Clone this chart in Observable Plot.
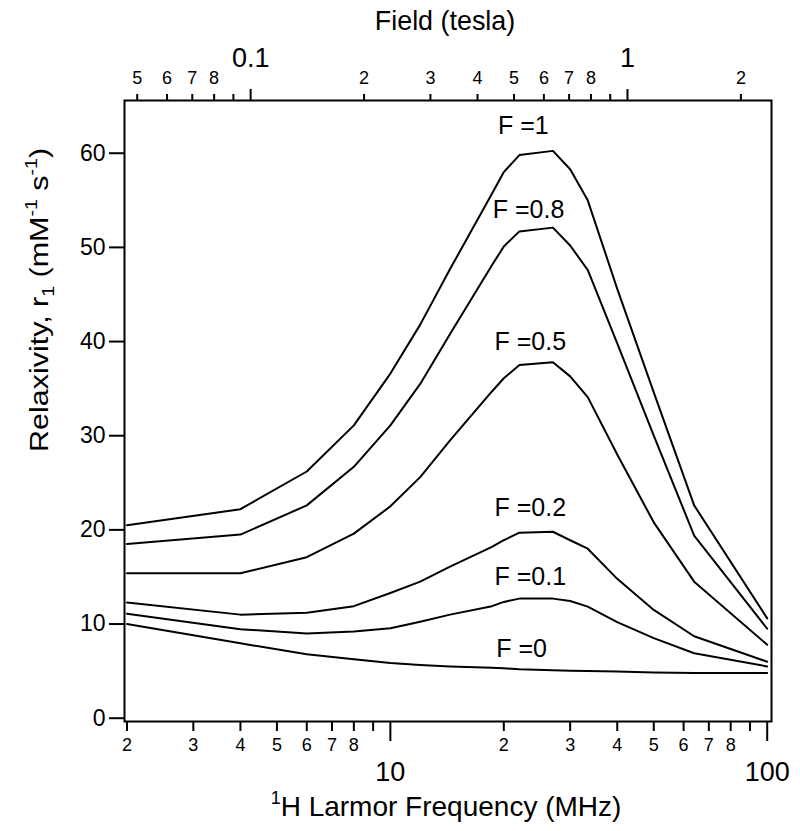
<!DOCTYPE html>
<html>
<head>
<meta charset="utf-8">
<script src="https://cdn.jsdelivr.net/npm/d3@7"></script>
<script src="https://cdn.jsdelivr.net/npm/@observablehq/plot@0.6"></script>
<style>
  body { margin: 0; background: #fff; }
  #chart svg { display: block; }
</style>
</head>
<body>
<div id="chart"></div>
<script>
// ---- data ----
const freq = [2, 4, 6, 8, 10, 12, 14.4, 18.6, 20, 22, 27, 30, 33.4, 40, 50, 64, 100];
const r1_F1   = [20.5, 22.2, 26.2, 31.1, 36.6, 41.8, 47.7, 55.7, 58.0, 59.8, 60.25, 58.3, 55.0, 45.6, 34.6, 22.6, 10.6];
const r1_F08  = [18.5, 19.5, 22.6, 26.7, 31.1, 35.5, 40.8, 48.1, 50.1, 51.7, 52.1, 50.2, 47.6, 39.8, 30.0, 19.4, 9.5];
const r1_F05  = [15.4, 15.4, 17.1, 19.6, 22.5, 25.6, 29.5, 34.7, 36.1, 37.5, 37.8, 36.3, 34.1, 28.0, 20.8, 14.5, 7.8];
const r1_F02  = [12.3, 11.0, 11.2, 11.9, 13.3, 14.5, 16.1, 18.2, 18.9, 19.7, 19.8, 18.9, 18.0, 14.8, 11.5, 8.7, 6.0];
const r1_F01  = [11.1, 9.45, 9.0, 9.2, 9.55, 10.25, 11.0, 11.9, 12.35, 12.7, 12.7, 12.45, 11.85, 10.2, 8.5, 6.9, 5.5];
const r1_F0   = [10.0, 7.95, 6.8, 6.25, 5.85, 5.65, 5.5, 5.35, 5.3, 5.2, 5.1, 5.05, 5.0, 4.95, 4.85, 4.8, 4.8];
const seriesNames = ["F =1", "F =0.8", "F =0.5", "F =0.2", "F =0.1", "F =0"];
const seriesValues = [r1_F1, r1_F08, r1_F05, r1_F02, r1_F01, r1_F0];
// label anchor (data coordinates)
const labelFreq = [19.3, 18.7, 18.9, 18.9, 18.9, 19.1];
const labelR1   = [62.9, 54.0, 39.9, 22.3, 15.0, 7.4];

// axis ticks
const yTicks = [0, 10, 20, 30, 40, 50, 60];
const freqMinorTicks  = [2, 3, 4, 5, 6, 7, 8, 9, 20, 30, 40, 50, 60, 70, 80, 90];
const freqMinorLabels = ["2", "3", "4", "5", "6", "7", "8", "", "2", "3", "4", "5", "6", "7", "8", ""];
const freqMajorTicks  = [10, 100];
const freqMajorLabels = ["10", "100"];
const teslaMinorTicks  = [0.05, 0.06, 0.07, 0.08, 0.09, 0.2, 0.3, 0.4, 0.5, 0.6, 0.7, 0.8, 0.9, 2];
const teslaMinorLabels = ["5", "6", "7", "8", "", "2", "3", "4", "5", "6", "7", "8", "", "2"];
const teslaMajorTicks  = [0.1, 1];
const teslaMajorLabels = ["0.1", "1"];
const MHZ_PER_TESLA = 42.58;

// ---- build tables ----
const rows = [];
seriesNames.forEach((name, s) => freq.forEach((f, i) => rows.push({series: name, f, r1: seriesValues[s][i]})));
const labels = seriesNames.map((name, i) => ({name, f: labelFreq[i], r1: labelR1[i]}));
const teslaMinorMHz = teslaMinorTicks.map(t => t * MHZ_PER_TESLA);
const teslaMajorMHz = teslaMajorTicks.map(t => t * MHZ_PER_TESLA);

const FONT = "'Liberation Sans', Arial, Helvetica, sans-serif";
const noLabel = () => "";

const plot = Plot.plot({
  width: 800,
  height: 831,
  marginTop: 100,
  marginBottom: 110,
  marginLeft: 124,
  marginRight: 29,
  style: {fontFamily: FONT, color: "black", background: "white"},
  x: {type: "log", domain: [1.97, 102.66]},
  y: {domain: [-0.35, 65.6]},
  marks: [
    Plot.axisY(yTicks, {tickSize: 15, tickPadding: 4, fontSize: 23, strokeWidth: 2, label: null}),
    // tick marks
    Plot.axisX(freqMinorTicks, {anchor: "bottom", tickSize: 10, strokeWidth: 2, tickFormat: noLabel, label: null}),
    Plot.axisX(freqMajorTicks, {anchor: "bottom", tickSize: 20, strokeWidth: 2, tickFormat: noLabel, label: null}),
    Plot.axisX(teslaMinorMHz, {anchor: "top", tickSize: 7, strokeWidth: 2, tickFormat: noLabel, label: null}),
    Plot.axisX(teslaMajorMHz, {anchor: "top", tickSize: 12, strokeWidth: 2, tickFormat: noLabel, label: null}),
    // tick labels
    Plot.text(freqMinorTicks, {x: d => d, text: freqMinorLabels, frameAnchor: "bottom", lineAnchor: "middle", dy: 24, fontSize: 18, fill: "black"}),
    Plot.text(freqMajorTicks, {x: d => d, text: freqMajorLabels, frameAnchor: "bottom", lineAnchor: "middle", dy: 51, fontSize: 27, fill: "black"}),
    Plot.text(teslaMinorMHz, {x: d => d, text: teslaMinorLabels, frameAnchor: "top", lineAnchor: "middle", dy: -22, fontSize: 18, fill: "black"}),
    Plot.text(teslaMajorMHz, {x: d => d, text: teslaMajorLabels, frameAnchor: "top", lineAnchor: "middle", dy: -42, fontSize: 27, fill: "black"}),
    Plot.frame({stroke: "black", strokeWidth: 2}),
    Plot.line(rows, {x: "f", y: "r1", z: "series", stroke: "black", strokeWidth: 2}),
    Plot.text(labels, {x: "f", y: "r1", text: "name", textAnchor: "start", fontSize: 25, fill: "black"})
  ]
});
document.getElementById("chart").appendChild(plot);

// ---- axis titles with sub/superscripts ----
const svg = d3.select(plot);
svg.append("text")
  .attr("transform", "translate(445,20) scale(0.96,1)")
  .attr("text-anchor", "middle").attr("dominant-baseline", "central")
  .attr("font-family", FONT).attr("font-size", 28).attr("fill", "black")
  .text("Field (tesla)");

const xt = svg.append("text")
  .attr("x", 446).attr("y", 816)
  .attr("text-anchor", "middle")
  .attr("font-family", FONT).attr("font-size", 28).attr("fill", "black");
xt.append("tspan").attr("font-size", 18).attr("dy", -12).text("1");
xt.append("tspan").attr("dy", 12).text("H Larmor Frequency (MHz)");

const yt = svg.append("text")
  .attr("transform", "translate(48,300) rotate(-90) scale(1.22,1)")
  .attr("text-anchor", "middle")
  .attr("font-family", FONT).attr("font-size", 25).attr("fill", "black");
yt.append("tspan").text("Relaxivity, r");
yt.append("tspan").attr("font-size", 16).attr("dy", 6).text("1");
yt.append("tspan").attr("dy", -6).text(" (mM");
yt.append("tspan").attr("font-size", 16).attr("dy", -11).text("-1");
yt.append("tspan").attr("dy", 11).text(" s");
yt.append("tspan").attr("font-size", 16).attr("dy", -11).text("-1");
yt.append("tspan").attr("dy", 11).text(")");
</script>
</body>
</html>
